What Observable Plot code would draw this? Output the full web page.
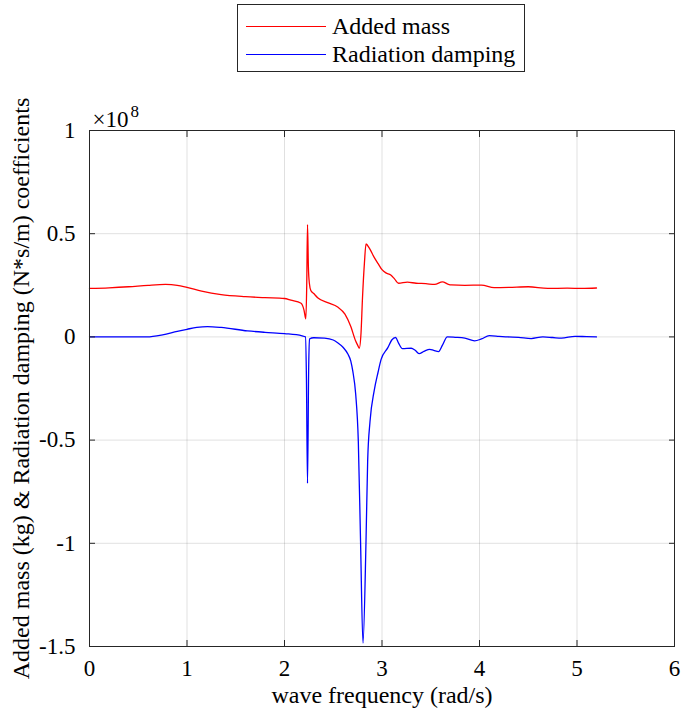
<!DOCTYPE html>
<html><head><meta charset="utf-8">
<script src="https://cdn.jsdelivr.net/npm/d3@7"></script>
<script src="https://cdn.jsdelivr.net/npm/@observablehq/plot@0.6"></script>
<style>
body{margin:0;background:#fff;font-family:"Liberation Serif",serif;}
#legend{position:relative;height:80px;width:681px;}
.box{position:absolute;left:237px;top:4px;width:286px;height:66px;border:1px solid #262626;background:#fff;}
.item{position:absolute;left:0;height:28px;display:flex;align-items:center;font-size:24px;color:#000;white-space:nowrap;}
.sw{width:80px;height:0;border-top:1.3px solid;margin-left:8px;margin-right:6px;}
</style></head><body>
<div id="legend"></div>
<div id="chart"></div>
<script>
// ---- data (values in units of 1e8) ----
const seriesNames = ["Added mass", "Radiation damping"];
const seriesColors = ["#ff0000", "#0000ff"];
const xTicks = [0, 1, 2, 3, 4, 5, 6];
const yTicks = [-1.5, -1, -0.5, 0, 0.5, 1];
const xLabel = "wave frequency (rad/s)";
const yLabel = "Added mass (kg) & Radiation damping (N*s/m) coefficients";
const exponentLabel = "×10";
const exponentValue = "8";

const addedMassFreq = [0, 0.2, 0.4, 0.6, 0.78, 0.9, 1.0, 1.15, 1.35, 1.6, 1.8, 2.0, 2.065, 2.17, 2.2, 2.219, 2.228, 2.236, 2.245, 2.255, 2.27, 2.3, 2.34, 2.45, 2.545, 2.62, 2.68, 2.73, 2.75, 2.767, 2.785, 2.8, 2.82, 2.836, 2.87, 2.92, 2.96, 3.0, 3.04, 3.09, 3.13, 3.17, 3.26, 3.35, 3.45, 3.54, 3.62, 3.68, 3.71, 3.85, 4.02, 4.15, 4.3, 4.5, 4.7, 4.9, 5.05, 5.2];
const addedMassValue = [0.235, 0.238, 0.243, 0.25, 0.254, 0.25, 0.24, 0.222, 0.205, 0.195, 0.19, 0.186, 0.178, 0.163, 0.13, 0.087, 0.25, 0.544, 0.34, 0.26, 0.225, 0.21, 0.19, 0.165, 0.145, 0.11, 0.05, -0.02, -0.04, -0.055, 0.02, 0.19, 0.36, 0.45, 0.43, 0.385, 0.355, 0.326, 0.31, 0.3, 0.28, 0.26, 0.265, 0.26, 0.258, 0.254, 0.267, 0.255, 0.252, 0.25, 0.251, 0.239, 0.24, 0.243, 0.235, 0.236, 0.235, 0.237];

const dampingFreq = [0, 0.3, 0.59, 0.75, 0.9, 1.0, 1.1, 1.21, 1.35, 1.62, 1.8, 2.0, 2.18, 2.215, 2.225, 2.236, 2.248, 2.256, 2.3, 2.41, 2.5, 2.545, 2.6, 2.65, 2.68, 2.7, 2.73, 2.757, 2.78, 2.805, 2.836, 2.853, 2.877, 2.92, 2.96, 2.99, 3.06, 3.1, 3.14, 3.17, 3.21, 3.3, 3.34, 3.38, 3.43, 3.49, 3.53, 3.58, 3.62, 3.67, 3.75, 3.85, 3.95, 4.02, 4.1, 4.2, 4.29, 4.4, 4.53, 4.65, 4.75, 4.84, 4.98, 5.1, 5.2];
const dampingValue = [0, 0, 0, 0.01, 0.027, 0.037, 0.046, 0.05, 0.046, 0.029, 0.022, 0.016, 0.005, 0, -0.2, -0.71, -0.15, -0.01, -0.004, -0.006, -0.015, -0.028, -0.05, -0.083, -0.117, -0.165, -0.277, -0.505, -0.99, -1.484, -0.99, -0.6, -0.41, -0.26, -0.17, -0.11, -0.052, -0.015, -0.003, -0.03, -0.057, -0.055, -0.065, -0.081, -0.07, -0.06, -0.065, -0.071, -0.04, 0, -0.002, -0.006, -0.019, -0.01, 0.006, 0.003, 0, -0.002, -0.008, 0, -0.003, -0.006, 0.003, 0.001, 0];

// ---- legend ----
const legend = document.getElementById("legend");
const box = document.createElement("div");
box.className = "box";
seriesNames.forEach((name, i) => {
  const item = document.createElement("div");
  item.className = "item";
  item.style.top = (7 + i * 28) + "px";
  const sw = document.createElement("span");
  sw.className = "sw";
  sw.style.borderTopColor = seriesColors[i];
  const t = document.createElement("span");
  t.textContent = name;
  item.append(sw, t);
  box.append(item);
});
legend.append(box);

// ---- chart ----
const addedMass = addedMassFreq.map((f, i) => ({f, v: addedMassValue[i]}));
const damping = dampingFreq.map((f, i) => ({f, v: dampingValue[i]}));
const fmt = d => String(d);
const axisColor = "#262626";
const serif = "Liberation Serif";

const chart = Plot.plot({
  width: 681,
  height: 635,
  marginTop: 50,
  marginBottom: 69,
  marginLeft: 89,
  marginRight: 7,
  style: {fontFamily: serif, background: "white", color: axisColor},
  x: {domain: [0, 6]},
  y: {domain: [-1.5, 1]},
  marks: [
    Plot.gridX(xTicks, {stroke: "#000", strokeOpacity: 0.12}),
    Plot.gridY(yTicks, {stroke: "#000", strokeOpacity: 0.12}),
    Plot.lineY(addedMass, {x: "f", y: "v", stroke: seriesColors[0], strokeWidth: 1.3, curve: "monotone-x"}),
    Plot.lineY(damping, {x: "f", y: "v", stroke: seriesColors[1], strokeWidth: 1.3, curve: "monotone-x"}),
    Plot.frame({stroke: axisColor, strokeWidth: 1}),
    Plot.axisX(xTicks, {tickSize: -6, tickPadding: 19, tickFormat: fmt, fontSize: 23, fontFamily: serif, label: null, stroke: axisColor, fill: "#000"}),
    Plot.axisX(xTicks, {anchor: "top", tickSize: -6, tickFormat: () => "", label: null, stroke: axisColor}),
    Plot.axisY(yTicks, {tickSize: -6, tickPadding: 20, tickFormat: fmt, fontSize: 23, fontFamily: serif, label: null, stroke: axisColor, fill: "#000"}),
    Plot.axisY(yTicks, {anchor: "right", tickSize: -6, tickFormat: () => "", label: null, stroke: axisColor}),
    Plot.text([xLabel], {frameAnchor: "bottom", dy: 56, fontSize: 24, fontFamily: serif, fill: "#000"}),
    Plot.text([yLabel], {frameAnchor: "left", rotate: -90, dx: -68, textAnchor: "middle", fontSize: 24, fontFamily: serif, fill: "#000"}),
    Plot.text([exponentLabel], {frameAnchor: "top-left", dx: 3, dy: -4, textAnchor: "start", lineAnchor: "bottom", fontSize: 23, fontFamily: serif, fill: "#000"}),
    Plot.text([exponentValue], {frameAnchor: "top-left", dx: 41, dy: -14, textAnchor: "start", lineAnchor: "bottom", fontSize: 17, fontFamily: serif, fill: "#000"})
  ]
});
document.getElementById("chart").append(chart);
</script>
</body></html>
